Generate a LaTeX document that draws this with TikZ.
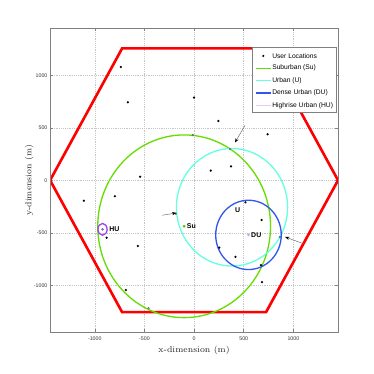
\documentclass[tikz,border=0pt]{standalone}
\usepackage{fontspec}
\usepackage{tikz}
\usetikzlibrary{arrows.meta,positioning}
\newfontfamily\helv{Liberation Sans}
\definecolor{hexred}{HTML}{FF0000}
\definecolor{suburb}{HTML}{66DD00}
\definecolor{urban}{HTML}{66FFE0}
\definecolor{dense}{HTML}{3355EE}
\definecolor{highrise}{HTML}{A040F0}
\definecolor{highlegend}{HTML}{E6C8FF}
\definecolor{axisgray}{HTML}{808080}

\begin{document}
\begin{tikzpicture}[x=0.0026578cm, y=0.0028075cm,
  gridline/.style={densely dotted, gray!45, line width=0.4pt},
  axbox/.style={draw=axisgray, line width=0.6pt},
  ticklbl/.style={font=\helv\fontsize{4}{4.5}\selectfont, text=black!80, inner sep=0.5pt},
  axlbl/.style={font=\fontsize{6.6}{8}\selectfont, text=black!85},
  zone/.style={line width=1pt},
  edgept/.style={fill=gray!60, draw=black!70, line width=0.2pt},
  zlbl/.style={font=\helv\bfseries\fontsize{5.3}{6}\selectfont, inner sep=0.4pt},
  lgtext/.style={font=\helv\fontsize{5.1}{6}\selectfont, anchor=west, inner sep=0pt},
  ptr/.style={-{Stealth[length=3.2pt,width=2.4pt,black]}, gray!80!black, line width=0.35pt}
]
  \useasboundingbox (-1954.7,-1844.8) rectangle (1807.8,1717);
  \foreach \v in {-1000,-500,0,500,1000} {
    \draw[gridline] (\v,-1450) -- (\v,1450); \draw[gridline] (-1450,\v) -- (1450,\v);
    \draw[axisgray, line width=0.4pt] (\v,-1450) -- (\v,-1420) (\v,1450) -- (\v,1420);
    \draw[axisgray, line width=0.4pt] (-1450,\v) -- (-1422,\v) (1450,\v) -- (1422,\v);
    \node[ticklbl] at (\v,-1509) {\v};
    \node[ticklbl, anchor=east] at (-1468,\v) {\v};
  }
  \begin{scope}
    \clip (-1450,-1450) rectangle (1450,1450);
    \draw[hexred, line width=2pt, line join=miter] (1450,0) -- (725,1255.7) -- (-725,1255.7)
      -- (-1450,0) -- (-725,-1255.7) -- (725,-1255.7) -- cycle;
    \coordinate (suC) at (-100,-438); \coordinate (uC) at (382,-257);
    \coordinate (duC) at (548,-520); \coordinate (huC) at (-922,-467);
    \draw[suburb, zone] (suC) circle[radius=870];
    \draw[urban, zone] (uC) circle[radius=560];
    \draw[dense, zone] (duC) circle[radius=330];
    \draw[highrise, zone] (huC) ellipse[x radius=46, y radius=56];
    \foreach \p in {(-737,1079),(-667,743),(-543,34),(0,787),(245,565),(741,438),(168,91),
      (372,133),(-1110,-194),(-798,-152),(-881,-547),(-566,-626),(-687,-1045),(517,-210),
      (681,-378),(254,-642),(417,-730),(674,-807),(684,-969)}
      \fill[black] \p circle (0.95pt);
    \foreach \p in {(-13,431),(362,298),(-184,-318),(-459,-1219),(862,-540)}
      \filldraw[edgept] \p circle (0.7pt);
    \fill[suburb!85!black] (suC) circle (1.1pt);
    \fill[dense!45] (duC) circle (1.1pt);
    \fill[gray!60!highrise] (huC) circle (1.1pt);
    \node[zlbl, right=1.5pt of suC] (suLab) {Su};
    \node[zlbl, right=1.8pt of uC, yshift=-2pt] (uLab) {U};
    \node[zlbl, right=1.5pt of duC] (duLab) {DU};
    \node[zlbl, right=4.6pt of huC] (huLab) {HU};
    \coordinate (a1s) at (513,522); \coordinate (a1e) at (412,360);
    \coordinate (a2s) at (-322,-333); \coordinate (a2e) at (-179,-311);
    \coordinate (a3s) at (1101,-604); \coordinate (a3e) at (917,-540);
    \draw[ptr] (a1s) -- (a1e); \draw[ptr] (a2s) -- (a2e); \draw[ptr] (a3s) -- (a3e);
  \end{scope}
  \draw[axbox, fill=white] (583,648) rectangle (1433,1263);
  \fill[black] (697,1184) circle (0.9pt);
  \node[lgtext] (lgUser) at (785,1184) {User Locations};
  \draw[suburb, zone] (620,1067) -- (775,1067); \node[lgtext] (lgSu) at (785,1067) {Suburban (Su)};
  \draw[urban, zone] (620,949) -- (775,949); \node[lgtext] (lgU) at (785,949) {Urban (U)};
  \draw[dense, zone] (620,832) -- (775,832); \node[lgtext] (lgDU) at (785,832) {Dense Urban (DU)};
  \draw[highlegend, zone] (620,710) -- (775,710); \node[lgtext] (lgHU) at (785,710) {Highrise Urban (HU)};
  \draw[axbox] (-1450,-1450) rectangle (1450,1450);
  \node[axlbl] (xLab) at (0,-1616) {x-dimension (m)};
  \node[axlbl, rotate=90] (yLab) at (-1660,0) {y-dimension (m)};
\end{tikzpicture}
\end{document}
